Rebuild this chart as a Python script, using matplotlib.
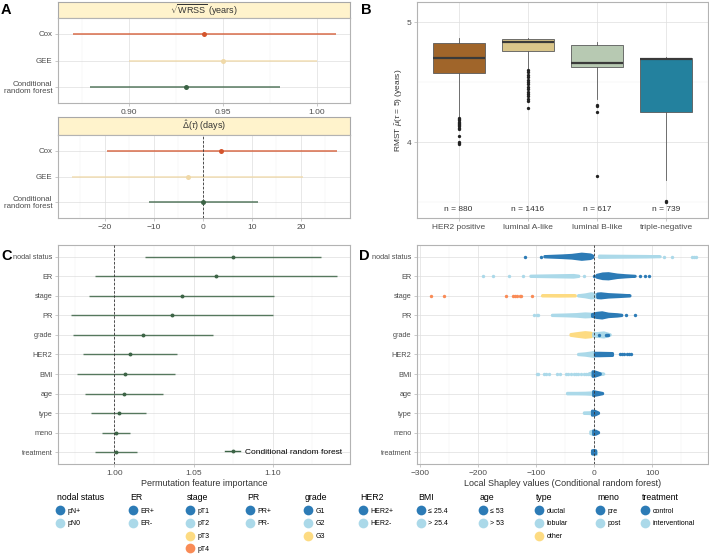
import numpy as np
import matplotlib
matplotlib.use("Agg")
import matplotlib.pyplot as plt
from matplotlib.lines import Line2D
from matplotlib.ticker import FixedLocator

plt.rcParams['font.family'] = ['Liberation Sans', 'DejaVu Sans']
plt.rcParams['mathtext.fontset'] = 'custom'
plt.rcParams['mathtext.rm'] = 'Liberation Sans'
plt.rcParams['mathtext.it'] = 'Liberation Sans:italic'
plt.rcParams['mathtext.bf'] = 'Liberation Sans:bold'

W, H = 709, 555

# ---------------- Panel A data ----------------
models = ["Cox", "GEE", "Conditional\nrandom forest"]
wrss_est = [0.940, 0.950, 0.930]
wrss_lo = [0.870, 0.900, 0.879]
wrss_hi = [1.010, 1.000, 0.980]
delta_est = [3.7, -3.1, 0.0]
delta_lo = [-19.6, -26.7, -11.0]
delta_hi = [27.3, 20.4, 11.2]

# ---------------- Panel B data ----------------
subtypes = ["HER2 positive", "luminal A-like", "luminal B-like", "triple-negative"]
n_patients = [880, 1416, 617, 739]
rmst_q1 = [4.578, 4.758, 4.622, 4.253]
rmst_med = [4.703, 4.836, 4.656, 4.690]
rmst_q3 = [4.825, 4.856, 4.806, 4.700]
rmst_whislo = [4.21, 4.61, 4.36, 3.68]
rmst_whishi = [4.87, 4.87, 4.83, 4.71]
rmst_outliers = [
    [4.20, 4.19, 4.18, 4.17, 4.16, 4.15, 4.14, 4.13, 4.12, 4.11, 4.05, 4.00, 3.99, 3.98],
    [4.60, 4.58, 4.56, 4.54, 4.52, 4.50, 4.48, 4.46, 4.44, 4.42, 4.40, 4.38, 4.36, 4.34, 4.28],
    [4.31, 4.30, 4.25, 3.72],
    [3.51, 3.50],
]

# ---------------- Panel C data ----------------
features = ["nodal status", "ER", "stage", "PR", "grade", "HER2", "BMI",
            "age", "type", "meno", "treatment"]
pfi_est = [1.0751, 1.0639, 1.0424, 1.0361, 1.0179, 1.0099, 1.0070, 1.0059, 1.0027, 1.0011, 1.0008]
pfi_lo = [1.0196, 0.9878, 0.9842, 0.9728, 0.9740, 0.9804, 0.9761, 0.9816, 0.9854, 0.9922, 0.9878]
pfi_hi = [1.1304, 1.1403, 1.1008, 1.0998, 1.0622, 1.0394, 1.0384, 1.0306, 1.0200, 1.0101, 1.0141]

# ---------------- Panel D data ----------------
# levels of each feature (legend order)
feature_levels = {
    "nodal status": ["pN+", "pN0"],
    "ER": ["ER+", "ER-"],
    "stage": ["pT1", "pT2", "pT3", "pT4"],
    "PR": ["PR+", "PR-"],
    "grade": ["G1", "G2", "G3"],
    "HER2": ["HER2+", "HER2-"],
    "BMI": ["\u2264 25.4", "> 25.4"],
    "age": ["\u2264 53", "> 53"],
    "type": ["ductal", "lobular", "other"],
    "meno": ["pre", "post"],
    "treatment": ["control", "interventional"],
}
# (level, dense-region shapley values, relative density, isolated shapley values)
shap_nodal_status = [
    ("pN+", [-85, -55, -38, -21, -6, -2], [0.1, 0.35, 0.55, 1.0, 0.7, 0.3], [-118, -91]),
    ("pN0", [9, 30, 60, 90, 114], [0.3, 0.25, 0.2, 0.15, 0.05], [121, 134, 169, 172, 175]),
]
shap_er = [
    ("ER-", [-109, -80, -50, -35, -26], [0.1, 0.2, 0.3, 0.35, 0.1], [-191, -173, -146, -123, -18]),
    ("ER+", [5, 15, 25, 40, 55, 71], [0.4, 0.9, 1.0, 0.5, 0.25, 0.05], [0, 79, 88, 95]),
]
shap_stage = [
    ("pT4", [], [], [-280, -259, -151, -139, -136, -132, -128, -126, -107]),
    ("pT3", [-89, -60, -32], [0.1, 0.15, 0.1], []),
    ("pT2", [-27, -15, -5, 0, 5], [0.1, 0.4, 0.8, 0.7, 0.2], []),
    ("pT1", [6, 12, 25, 45, 62], [0.7, 0.8, 0.5, 0.3, 0.1], []),
]
shap_pr = [
    ("PR-", [-72, -50, -30, -15, -5], [0.1, 0.2, 0.35, 0.6, 0.5], [-103, -99, -96]),
    ("PR+", [-3, 5, 14, 25, 40, 48], [0.4, 0.8, 1.0, 0.5, 0.3, 0.1], [55, 70]),
]
shap_grade = [
    ("G3", [-40, -30, -15, -5, -2], [0.2, 0.5, 0.9, 0.7, 0.3], []),
    ("G2", [-1, 8, 17, 22, 28], [0.5, 0.6, 0.8, 0.5, 0.1], []),
    ("G1", [], [], [8, 20, 22, 24]),
]
shap_her2 = [
    ("HER2-", [-27, -15, -5, 0, 1], [0.1, 0.3, 0.6, 0.8, 0.4], []),
    ("HER2+", [2, 10, 20, 32], [0.5, 0.5, 0.45, 0.4], [44, 48, 52, 56, 60, 64]),
]
shap_bmi = [
    ("> 25.4", [-8, -3, 2, 10, 17], [0.2, 0.4, 0.5, 0.3, 0.05],
     [-99, -96, -86, -82, -78, -63, -59, -49, -45, -40, -35, -31, -27, -22, -18, -14, -10]),
    ("\u2264 25.4", [-2, 2, 6, 11], [0.9, 0.8, 0.5, 0.1], []),
]
shap_age = [
    ("> 53", [-46, -30, -15, -5, 2], [0.15, 0.15, 0.2, 0.3, 0.5], []),
    ("\u2264 53", [-1, 3, 8, 15], [0.8, 0.6, 0.4, 0.1], []),
]
shap_type = [
    ("lobular", [-17, -8, 0, 2], [0.15, 0.2, 0.4, 0.2], []),
    ("ductal", [-3, 2, 5, 8], [0.8, 0.7, 0.4, 0.1], []),
]
shap_meno = [
    ("post", [-6, -2, 3], [0.4, 0.6, 0.3], []),
    ("pre", [-1, 3, 8], [0.7, 0.6, 0.1], []),
]
shap_treatment = [
    ("interventional", [-3, 3], [0.5, 0.5], []),
    ("control", [-3, 0, 3], [0.6, 0.7, 0.6], []),
]
shap_groups = [shap_nodal_status, shap_er, shap_stage, shap_pr, shap_grade, shap_her2,
               shap_bmi, shap_age, shap_type, shap_meno, shap_treatment]

# ---------------- styles ----------------
model_colors = ["#D4552D", "#F0D9A8", "#3C6446"]
box_colors = ["#A0652A", "#D9C58A", "#B7C9B2", "#23819E"]
level_palette = ["#2C7BB6", "#ABD9E9", "#FDDB82", "#F98B56"]
green = "#3C6446"
GRID = "#DEDEDE"
GRID_MINOR = "#EFEFEF"
SPINE = "#B3B3B3"
TXT = "#4D4D4D"


def px_axes(fig, x0, y0, x1, y1):
    return fig.add_axes([x0 / W, 1 - y1 / H, (x1 - x0) / W, (y1 - y0) / H])


def style_axes(ax):
    for s in ax.spines.values():
        s.set_color(SPINE)
        s.set_linewidth(0.8)
    ax.tick_params(axis='both', which='major', length=2.5, width=0.5, color=SPINE,
                   labelcolor=TXT, pad=1.5)
    ax.tick_params(axis='x', which='major', labelsize=6)
    ax.tick_params(axis='y', which='major', labelsize=5.3)
    ax.tick_params(axis='both', which='minor', length=0)
    ax.grid(True, which='major', color=GRID, lw=0.5)
    ax.grid(True, which='minor', color=GRID_MINOR, lw=0.35)
    ax.set_axisbelow(True)


def header(fig, x0, y0, x1, y1, text):
    hx = px_axes(fig, x0, y0, x1, y1)
    hx.set_facecolor("#FFF3CC")
    for s in hx.spines.values():
        s.set_color("#A8A8A8")
        s.set_linewidth(0.8)
    hx.set_xticks([])
    hx.set_yticks([])
    hx.text(0.5, 0.5, text, ha='center', va='center', fontsize=6.5, color="#333333",
            transform=hx.transAxes)


fig = plt.figure(figsize=(W / 100, H / 100), dpi=100)

# ---------------- Panel A ----------------
ypos = np.arange(len(models))
header(fig, 58, 2, 350, 18, r"$\sqrt{\mathrm{WRSS}}$ (years)")
a1 = px_axes(fig, 58, 18, 350, 103)
style_axes(a1)
for i in range(len(models)):
    a1.plot([wrss_lo[i], wrss_hi[i]], [i, i], color=model_colors[i], lw=1.1, alpha=0.85,
            solid_capstyle='butt')
    a1.plot(wrss_est[i], i, 'o', color=model_colors[i], ms=3.6, mew=0)
a1.set_xlim(0.862, 1.0175)
a1.set_ylim(2.6, -0.6)
a1.set_yticks(ypos)
a1.set_yticklabels(models, linespacing=0.95, fontsize=5.7)
a1.xaxis.set_major_locator(FixedLocator([0.90, 0.95, 1.00]))
a1.xaxis.set_minor_locator(FixedLocator([0.875, 0.925, 0.975]))
a1.set_xticklabels(["0.90", "0.95", "1.00"])

header(fig, 58, 117, 350, 135, r"$\hat{\Delta}(\tau)$ (days)")
a2 = px_axes(fig, 58, 135, 350, 218)
style_axes(a2)
for i in range(len(models)):
    a2.plot([delta_lo[i], delta_hi[i]], [i, i], color=model_colors[i], lw=1.1, alpha=0.85,
            solid_capstyle='butt')
    a2.plot(delta_est[i], i, 'o', color=model_colors[i], ms=3.6, mew=0, zorder=4)
a2.axvline(0, color="#333333", lw=0.6, ls=(0, (3, 2)), zorder=3)
a2.set_xlim(-29.5, 30.0)
a2.set_ylim(2.6, -0.6)
a2.set_yticks(ypos)
a2.set_yticklabels(models, linespacing=0.95, fontsize=5.7)
a2.xaxis.set_major_locator(FixedLocator([-20, -10, 0, 10, 20]))
a2.xaxis.set_minor_locator(FixedLocator([-25, -15, -5, 5, 15, 25]))

# ---------------- Panel B ----------------
b = px_axes(fig, 417, 2, 708, 218)
style_axes(b)
stats = []
for i in range(len(subtypes)):
    stats.append(dict(q1=rmst_q1[i], med=rmst_med[i], q3=rmst_q3[i],
                      whislo=rmst_whislo[i], whishi=rmst_whishi[i],
                      fliers=rmst_outliers[i], label=subtypes[i]))
bp = b.bxp(stats, positions=np.arange(len(subtypes)), widths=0.75, patch_artist=True,
           showfliers=True,
           boxprops=dict(edgecolor="#5A5A5A", lw=0.6),
           medianprops=dict(color="#3A3A3A", lw=1.6),
           whiskerprops=dict(color="#5A5A5A", lw=0.6),
           capprops=dict(lw=0),
           flierprops=dict(marker='o', ms=2.4, mfc="#222222", mec="#222222", mew=0))
for patch, col in zip(bp['boxes'], box_colors):
    patch.set_facecolor(col)
for i, n in enumerate(n_patients):
    b.text(i, 3.44, f"n = {n}", ha='center', va='center', fontsize=6, color="#333333")
b.set_xlim(-0.6, 3.6)
b.set_ylim(3.367, 5.167)
b.yaxis.set_major_locator(FixedLocator([4, 5]))
b.yaxis.set_minor_locator(FixedLocator([3.5, 4.5]))
b.set_yticklabels(["4", "5"])
b.tick_params(axis='y', labelsize=6)
b.set_xticks(np.arange(len(subtypes)))
b.set_xticklabels(subtypes, fontsize=6)
b.set_ylabel(r"RMST $\hat{\mu}(\tau$ = 5) (years)", fontsize=6, color="#333333", labelpad=1)

# ---------------- Panel C ----------------
c = px_axes(fig, 58, 245, 350, 464)
style_axes(c)
fpos = np.arange(len(features))
c.hlines(fpos, pfi_lo, pfi_hi, color=green, lw=1.0, alpha=0.85)
c.plot(pfi_est, fpos, 'o', color=green, ms=2.8, mew=0)
c.axvline(1.0, color="#333333", lw=0.6, ls=(0, (3, 2)), zorder=3)
c.set_xlim(0.9644, 1.1487)
c.set_ylim(10.6, -0.6)
c.set_yticks(fpos)
c.set_yticklabels(features)
c.xaxis.set_major_locator(FixedLocator([1.00, 1.05, 1.10]))
c.xaxis.set_minor_locator(FixedLocator([0.975, 1.025, 1.075, 1.125]))
c.set_xticklabels(["1.00", "1.05", "1.10"])
c.set_xlabel("Permutation feature importance", fontsize=6.5, color="#333333", labelpad=2)
c.legend(handles=[Line2D([], [], color=green, lw=1.0, marker='o', ms=2.8, mew=0)],
         labels=["Conditional random forest"], loc='lower right', frameon=False,
         fontsize=6, handlelength=1.8, handletextpad=0.5, borderaxespad=0.6)

# ---------------- Panel D ----------------
d = px_axes(fig, 417, 245, 708, 464)
style_axes(d)
for i, (feat, groups) in enumerate(zip(features, shap_groups)):
    levels = feature_levels[feat]
    for level, bx, bd, pts in groups:
        col = level_palette[levels.index(level)]
        if len(bx):
            bx = np.asarray(bx, float)
            hw = np.asarray(bd, float) * 0.14
            xs = np.concatenate([bx, bx[::-1]])
            ys = np.concatenate([i - hw, (i + hw)[::-1]])
            d.fill(xs, ys, facecolor=col, edgecolor=col, lw=2.0, joinstyle='round', zorder=2)
        if len(pts):
            d.scatter(pts, [i] * len(pts), s=6, color=col, lw=0, zorder=2)
d.axvline(0, color="#333333", lw=0.6, ls=(0, (3, 2)), zorder=5)
d.set_xlim(-304.6, 196)
d.set_ylim(10.6, -0.6)
d.set_yticks(fpos)
d.set_yticklabels(features)
d.xaxis.set_major_locator(FixedLocator([-300, -200, -100, 0, 100]))
d.xaxis.set_minor_locator(FixedLocator([-250, -150, -50, 50, 150]))
d.set_xlabel("Local Shapley values (Conditional random forest)", fontsize=6.5,
             color="#333333", labelpad=2)

# ---------------- Bottom legends ----------------
legend_x = [57, 130, 187, 247, 305, 360, 418, 480, 536, 597, 642]
for feat, lx in zip(features, legend_x):
    levels = feature_levels[feat]
    handles = [Line2D([], [], ls='', marker='o', ms=7, mew=0, color=level_palette[k])
               for k in range(len(levels))]
    fig.legend(handles, levels, title=feat, loc='upper left',
               bbox_to_anchor=(lx / W, 1 - 493 / H), frameon=False, fontsize=5,
               title_fontsize=6.3, alignment='left', handletextpad=0.5, labelspacing=0.82,
               borderpad=0, borderaxespad=0, handlelength=1.0)

# ---------------- Panel letters ----------------
for letter, (x, y) in {"A": (1, 10), "B": (361, 10), "C": (1, 256), "D": (359, 256)}.items():
    fig.text(x / W, 1 - y / H, letter, fontsize=10.5, fontweight='bold', va='center', ha='left')

fig.savefig("out.png", dpi=100)
